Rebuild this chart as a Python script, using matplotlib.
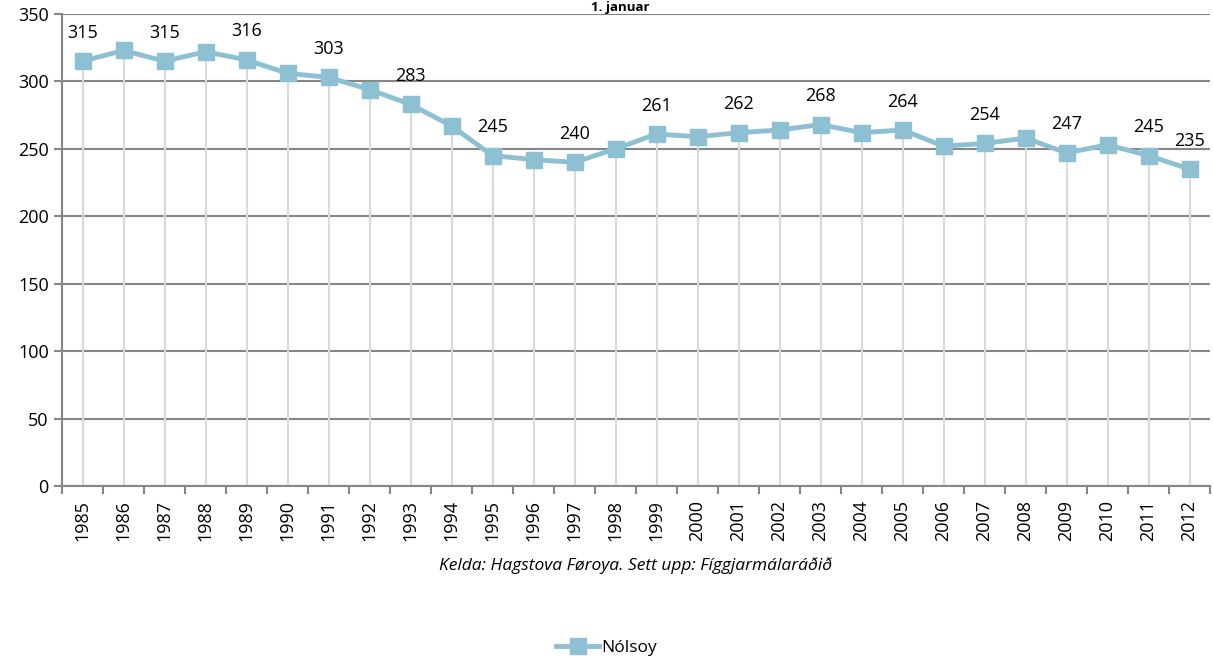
import matplotlib
matplotlib.use("Agg")
import matplotlib.pyplot as plt
import numpy as np

years = [str(y) for y in range(1985, 2013)]
values = [315, 323, 315, 322, 316, 306, 303, 294, 283, 267, 245, 242, 240, 250,
          261, 259, 262, 264, 268, 262, 264, 252, 254, 258, 247, 253, 245, 235]
series_name = "Nólsoy"
title = "1. januar"
source = "Kelda: Hagstova Føroya. Sett upp: Fíggjarmálaráðið"

plt.rcParams['font.family'] = ['Open Sans', 'DejaVu Sans']
color = '#8EC0D3'

fig = plt.figure(figsize=(12.13, 6.58), dpi=100)
ax = fig.add_axes([62/1213, 1-486/658, (1210-62)/1213, (486-14)/658])

x = np.arange(len(years))
ax.vlines(x, 0, values, color='#D9D9D9', lw=1.5, zorder=1)
ax.plot(x, values, color=color, lw=3.5, marker='s', ms=11, mec=color, mfc=color,
        zorder=3, label=series_name)

for i, v in enumerate(values):
    if i % 2 == 0 or i == len(values) - 1:
        ax.annotate(str(v), (x[i], v), xytext=(0, 14), textcoords='offset points',
                    ha='center', va='bottom', fontsize=13)

ax.set_xlim(-0.5, len(years) - 0.5)
ax.set_ylim(0, 350)
ax.set_yticks(range(0, 351, 50))
ax.yaxis.grid(True, color='#868686', lw=1.5)
ax.set_axisbelow(True)
ax.set_xticks(x)
ax.set_xticklabels(years, rotation=90, fontsize=13)
ax.set_xticks(np.arange(-0.5, len(years)), minor=True)
ax.tick_params(axis='x', which='major', length=0, pad=10)
ax.tick_params(axis='x', which='minor', length=6, color='#868686', width=1.5)
ax.tick_params(axis='y', length=6, color='#868686', width=1.5, labelsize=13)
for s in ['top', 'right']:
    ax.spines[s].set_visible(False)
for s in ['left', 'bottom']:
    ax.spines[s].set_color('#868686')
    ax.spines[s].set_linewidth(1.5)

fig.text(0.511, 1 - 0.5/658, title, ha='center', va='top', fontsize=9.5, fontweight='bold')
fig.text(0.524, 1 - 566/658, source, ha='center', va='center', fontsize=12.5, style='italic')

fig.legend(loc='center', bbox_to_anchor=(0.5, 1 - 648/658), frameon=False, fontsize=12.5,
           handlelength=2.5, handletextpad=0.1)

fig.savefig('out.png', dpi=100)
